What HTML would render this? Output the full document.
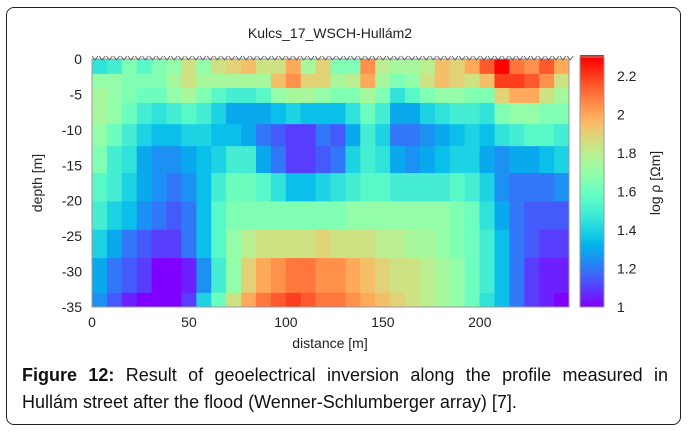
<!DOCTYPE html>
<html><head><meta charset="utf-8">
<style>
body{margin:0;background:#fff;width:689px;height:432px;overflow:hidden;font-family:"Liberation Sans",sans-serif;}
#frame{position:absolute;left:6px;top:7px;width:675px;height:418px;border:1px solid #222;border-radius:8px;box-sizing:border-box;}
#cap{position:absolute;left:22px;top:362px;width:646px;font-size:18px;line-height:27px;color:#111;}
#cap .l1{text-align:justify;text-align-last:justify;white-space:nowrap;}
</style></head>
<body>
<div id="frame"></div>
<svg id="chart" width="689" height="432" style="position:absolute;left:0;top:0"></svg>
<div id="cap"><div class="l1" style="white-space:normal"><b>Figure 12:</b> Result of geoelectrical inversion along the profile measured in</div><div>Hullám street after the flood (Wenner-Schlumberger array) [7].</div></div>
<script>
const depthEdges=[0,2.1,4.1,6.2,9.2,12.3,16.1,20.1,24.1,28.1,33,35];
const nCols=32;
const distMax=246;
const xTicks=[0,50,100,150,200];
const yTicks=[0,-5,-10,-15,-20,-25,-30,-35];
const cTicks=[1,1.2,1.4,1.6,1.8,2,2.2];
const row1=[1.45,1.5,1.65,1.55,1.65,1.7,1.85,1.7,1.85,1.9,1.95,1.85,1.85,2.0,1.75,1.9,1.65,1.65,2.05,1.8,1.75,1.75,1.8,1.95,1.9,2.0,2.15,2.3,2.1,2.05,2.15,2.0];
const row2=[1.7,1.7,1.65,1.65,1.65,1.75,1.85,1.75,1.75,1.75,1.75,1.75,1.95,2.05,1.9,1.9,1.75,1.8,2.0,1.75,1.65,1.7,1.85,1.95,1.9,1.85,1.95,2.2,2.2,2.15,2.05,1.85];
const row3=[1.75,1.7,1.65,1.6,1.6,1.7,1.75,1.65,1.55,1.5,1.5,1.55,1.7,1.75,1.75,1.7,1.65,1.65,1.75,1.65,1.45,1.55,1.65,1.7,1.7,1.65,1.65,1.9,2.0,2.0,1.85,1.75];
const row4=[1.75,1.7,1.6,1.5,1.45,1.5,1.55,1.5,1.4,1.3,1.3,1.3,1.35,1.4,1.35,1.35,1.35,1.45,1.6,1.5,1.3,1.3,1.4,1.45,1.5,1.5,1.45,1.65,1.7,1.7,1.65,1.65];
const row5=[1.7,1.6,1.5,1.4,1.35,1.35,1.4,1.4,1.35,1.35,1.3,1.2,1.15,1.1,1.1,1.2,1.15,1.3,1.5,1.4,1.2,1.2,1.25,1.3,1.35,1.4,1.35,1.45,1.5,1.55,1.55,1.5];
const row6=[1.65,1.5,1.45,1.3,1.25,1.25,1.3,1.35,1.4,1.5,1.5,1.3,1.2,1.1,1.1,1.15,1.2,1.4,1.5,1.45,1.3,1.25,1.3,1.35,1.4,1.4,1.3,1.25,1.3,1.3,1.35,1.4];
const row7=[1.55,1.5,1.4,1.3,1.25,1.2,1.25,1.35,1.5,1.6,1.6,1.55,1.45,1.35,1.35,1.4,1.45,1.5,1.55,1.55,1.5,1.5,1.5,1.5,1.55,1.5,1.4,1.25,1.2,1.2,1.2,1.25];
const row8=[1.5,1.4,1.35,1.25,1.2,1.15,1.2,1.35,1.55,1.65,1.65,1.65,1.65,1.65,1.65,1.65,1.65,1.7,1.7,1.7,1.7,1.7,1.7,1.7,1.65,1.6,1.45,1.3,1.2,1.15,1.15,1.15];
const row9=[1.4,1.3,1.2,1.15,1.1,1.1,1.2,1.35,1.55,1.7,1.8,1.85,1.85,1.85,1.85,1.9,1.85,1.85,1.85,1.8,1.8,1.75,1.75,1.7,1.65,1.6,1.5,1.35,1.2,1.15,1.1,1.1];
const row10=[1.3,1.2,1.15,1.1,1.0,1.0,1.05,1.25,1.5,1.7,1.9,2.0,2.05,2.1,2.1,2.05,2.05,2.0,1.95,1.9,1.85,1.85,1.8,1.75,1.7,1.6,1.5,1.35,1.2,1.1,1.05,1.05];
const row11=[1.25,1.15,1.05,1.0,1.0,1.0,1.1,1.4,1.6,1.85,2.0,2.1,2.15,2.2,2.15,2.1,2.1,2.05,2.0,1.95,1.9,1.85,1.8,1.75,1.7,1.6,1.45,1.35,1.2,1.1,1.05,1.0];
const grid=[row1,row2,row3,row4,row5,row6,row7,row8,row9,row10,row11];

const NS='http://www.w3.org/2000/svg';
const svg=document.getElementById('chart');
const PL=92,PR=569,PT=59,PB=307,CMIN=1,CMAX=2.3;
const xs=d=>PL+(d/distMax)*(PR-PL);
const ys=d=>PT+(Math.abs(d)/35)*(PB-PT);
const cs=v=>PB-(v-CMIN)/(CMAX-CMIN)*(PB-57);
function color(v){let t=Math.max(0,Math.min(1,(v-CMIN)/(CMAX-CMIN)));
 let r=Math.min(1,Math.abs(2*t-0.5)),g=Math.sin(Math.PI*t),b=Math.cos(Math.PI*t/2);
 return `rgb(${Math.round(r*255)},${Math.round(g*255)},${Math.round(b*255)})`;}
function el(tag,attrs,txt){const e=document.createElementNS(NS,tag);for(const k in attrs)e.setAttribute(k,attrs[k]);if(txt!==undefined)e.textContent=txt;svg.appendChild(e);return e;}
const cw=(PR-PL)/nCols;
grid.forEach((row,i)=>{row.forEach((v,j)=>{
 const r=el('rect',{x:PL+j*cw,y:ys(depthEdges[i]),width:cw+0.5,height:ys(depthEdges[i+1])-ys(depthEdges[i])+0.5,fill:color(v)});
 
 
});});
const fr=el('rect',{x:PL,y:PT,width:PR-PL,height:PB-PT,fill:'none',stroke:'#999','stroke-width':1});


let pts='';for(let x=PL;x<PR;x+=7.2){pts+=`M${x},${PT-3} l3,4 l3,-4 `;}
const mk=el('path',{d:pts,fill:'none',stroke:'#555','stroke-width':0.8});


const tt=el('text',{x:330,y:38,'font-size':14,'text-anchor':'middle',fill:'#222','font-family':'Liberation Sans, sans-serif'},'Kulcs_17_WSCH-Hullám2');


yTicks.forEach(t=>{const e=el('text',{x:82,y:ys(t)+5,'font-size':14,'text-anchor':'end',fill:'#222'},String(t));
 
 });
xTicks.forEach(t=>{const e=el('text',{x:xs(t),y:327,'font-size':14,'text-anchor':'middle',fill:'#222'},String(t));
 
 });
const xl=el('text',{x:330,y:348,'font-size':14,'text-anchor':'middle',fill:'#222'},'distance [m]');


const yl=el('text',{x:0,y:0,'font-size':14,'text-anchor':'middle',fill:'#222',transform:'translate(42,183) rotate(-90)'},'depth [m]');


for(let v=CMIN;v<CMAX;v+=0.01){const r=el('rect',{x:580,y:cs(v+0.01),width:24,height:cs(v)-cs(v+0.01)+0.4,fill:color(v+0.005)});
 
 }
const cb=el('rect',{x:580,y:57,width:24,height:PB-57,fill:'none',stroke:'#999'});


cTicks.forEach(t=>{const e=el('text',{x:617,y:cs(t)+5,'font-size':14,fill:'#222'},String(t));
 
 });
const cl=el('text',{x:0,y:0,'font-size':14,'text-anchor':'middle',fill:'#222',transform:'translate(660,183) rotate(-90)'},'log ρ [Ωm]');


</script>
</body></html>
